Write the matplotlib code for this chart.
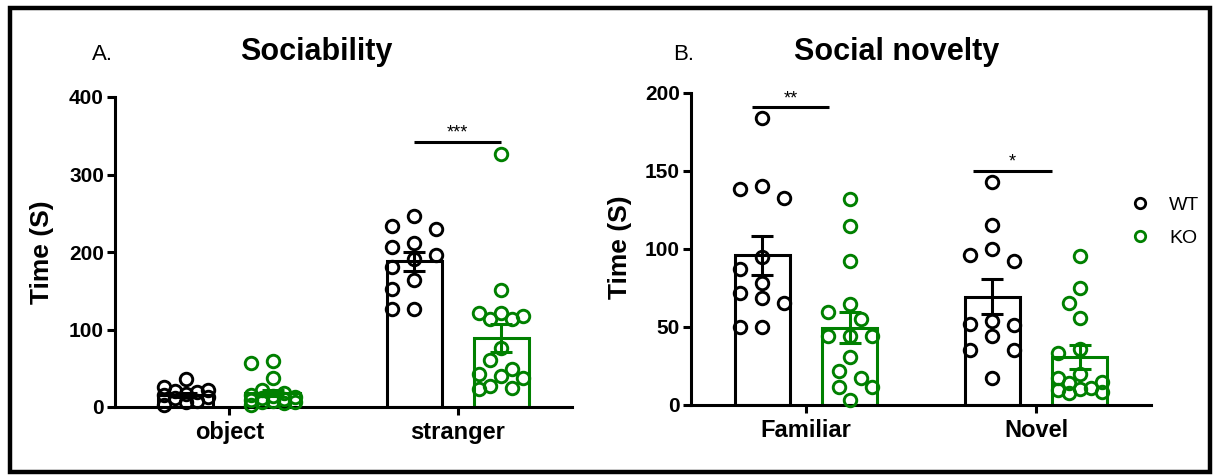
import matplotlib
matplotlib.use("Agg")
import matplotlib.pyplot as plt
import numpy as np
from matplotlib.patches import Rectangle
from matplotlib.lines import Line2D

plt.rcParams["font.family"] = ["Liberation Sans", "DejaVu Sans"]

# ---------------- data ----------------
soc_groups = ["object", "stranger"]
soc_wt_points = [
    [36, 26, 22, 21, 19, 17, 15, 13, 11, 8, 6, 2],
    [246, 233.5, 230, 212, 207, 196, 191, 181, 164, 152, 126, 126],
]
soc_ko_points = [
    [60, 57, 38, 22, 18, 16, 14, 13, 12, 10, 9, 8, 7, 6, 5, 3],
    [327, 151, 121, 121, 117, 114, 113, 76.5, 60.5, 48.5, 42, 40, 37, 27, 24, 23],
]
soc_wt_mean = [15.5, 188]
soc_wt_sem = [3, 12]
soc_ko_mean = [18, 89]
soc_ko_sem = [4, 18]

nov_groups = ["Familiar", "Novel"]
nov_wt_points = [
    [184, 140.5, 138.5, 132.5, 95, 87, 78.5, 71.5, 68.5, 65.5, 50, 50],
    [143, 115.5, 100, 96, 92.5, 54, 52, 51, 44, 35.5, 35.5, 17],
]
nov_ko_points = [
    [132, 114.5, 92.5, 64.5, 59.5, 55, 44, 44, 44, 30.5, 22, 17, 11.5, 11.5, 3],
    [95.5, 75, 65.5, 55.5, 36, 33.5, 20, 17, 15, 14, 11, 10, 9.5, 8.5, 7.5],
]
nov_wt_mean = [96, 69.5]
nov_wt_sem = [12.5, 11.3]
nov_ko_mean = [49.5, 30.5]
nov_ko_sem = [10, 7.7]

series_names = ["WT", "KO"]
WT_COLOR = "black"
KO_COLOR = "#008000"

# ---------------- figure ----------------
W, H, DPI = 1217, 475, 100
fig = plt.figure(figsize=(W / DPI, H / DPI), dpi=DPI)
fig.patch.set_facecolor("white")


def fx(px):
    return px / W


def fy(py):
    return 1 - py / H


ax_a = fig.add_axes([fx(115), fy(407), fx(572) - fx(115), fy(97) - fy(407)])
ax_b = fig.add_axes([fx(691), fy(405), fx(1151) - fx(691), fy(93) - fy(405)])

BAR_OFF = 0.19
BAR_W = 0.24
LW = 2.2

# column order tried when spreading points: outer columns first for WT, inner first for KO
WT_COLUMNS = [0, -2, 2, -1, 1]
KO_COLUMNS = [0, -1, 1, -2, 2]


def swarm(ax, center, values, columns, step_px=11, diam_px=15):
    """Spread points sideways in columns so circles overlap as little as possible."""
    values = np.asarray(values, dtype=float)
    ys = ax.transData.transform(np.column_stack([np.full(len(values), center), values]))[:, 1]
    ppu = ax.transData.transform([(1, 0)])[0, 0] - ax.transData.transform([(0, 0)])[0, 0]
    placed = []
    offs = np.zeros(len(values))
    for i in np.argsort(-values, kind="stable"):
        best, best_d = 0, -1.0
        for k in columns:
            x = k * step_px
            d = min((np.hypot(x - px, ys[i] - py) for px, py in placed), default=np.inf)
            if d >= diam_px:
                best = x
                break
            if d > best_d:
                best_d, best = d, x
        placed.append((best, ys[i]))
        offs[i] = best
    return center + offs / ppu


def draw_panel(ax, groups, wt_pts, ko_pts, wt_mean, wt_sem, ko_mean, ko_sem, ymax, yticks):
    ax.set_xlim(-0.5, 1.5)
    ax.set_ylim(0, ymax)
    for i in range(len(groups)):
        for pts, mean, sem, color, off, cols in (
            (wt_pts[i], wt_mean[i], wt_sem[i], WT_COLOR, -BAR_OFF, WT_COLUMNS),
            (ko_pts[i], ko_mean[i], ko_sem[i], KO_COLOR, BAR_OFF, KO_COLUMNS),
        ):
            xc = i + off
            ax.bar(xc, mean, width=BAR_W, facecolor="none", edgecolor=color,
                   linewidth=LW, zorder=2)
            xs = swarm(ax, xc, pts, cols)
            ax.plot(xs, pts, "o", ms=9, mfc="none", mec=color, mew=2.1,
                    zorder=3, clip_on=False)
            ax.errorbar(xc, mean, yerr=sem, color=color, capsize=8,
                        elinewidth=LW, capthick=LW, zorder=4)
    for s in ("top", "right"):
        ax.spines[s].set_visible(False)
    for s in ("left", "bottom"):
        ax.spines[s].set_linewidth(LW)
    ax.set_xticks(range(len(groups)))
    ax.set_xticklabels(groups, fontsize=17, fontweight="bold")
    ax.set_yticks(yticks)
    ax.set_yticklabels([str(t) for t in yticks], fontsize=15, fontweight="bold")
    ax.tick_params(axis="x", length=6, width=LW, pad=4)
    ax.tick_params(axis="y", length=6, width=LW, pad=2)


draw_panel(ax_a, soc_groups, soc_wt_points, soc_ko_points,
           soc_wt_mean, soc_wt_sem, soc_ko_mean, soc_ko_sem, 400, [0, 100, 200, 300, 400])
draw_panel(ax_b, nov_groups, nov_wt_points, nov_ko_points,
           nov_wt_mean, nov_wt_sem, nov_ko_mean, nov_ko_sem, 200, [0, 50, 100, 150, 200])


def sig(ax, x0, x1, y, label):
    ax.plot([x0, x1], [y, y], color="black", lw=LW, solid_capstyle="butt",
            clip_on=False, zorder=5)
    ax.text((x0 + x1) / 2, y, label, ha="center", va="bottom", fontsize=13)


sig(ax_a, 1 - BAR_OFF, 1 + BAR_OFF, 342, "***")
sig(ax_b, -0.235, 0.10, 190.8, "**")
sig(ax_b, 1 - 0.273, 1 + 0.07, 150.2, "*")

# titles, panel letters, axis labels
fig.text(fx(316), fy(52), "Sociability", fontsize=22, fontweight="bold", ha="center", va="center")
fig.text(fx(897), fy(52), "Social novelty", fontsize=22, fontweight="bold", ha="center", va="center")
fig.text(fx(92), fy(55), "A.", fontsize=16, ha="left", va="center")
fig.text(fx(673), fy(55), "B.", fontsize=16, ha="left", va="center")
fig.text(fx(42), fy(252), "Time (S)", fontsize=19, fontweight="bold", rotation=90,
         ha="center", va="center")
fig.text(fx(620), fy(247), "Time (S)", fontsize=19, fontweight="bold", rotation=90,
         ha="center", va="center")

# legend
handles = [Line2D([], [], ls="none", marker="o", ms=7.5, mfc="none", mec=c, mew=2)
           for c in (WT_COLOR, KO_COLOR)]
fig.legend(handles, series_names, loc="center left", bbox_to_anchor=(fx(1130), fy(221.5)),
           frameon=False, fontsize=14, handlelength=1.0, handletextpad=1.0,
           labelspacing=0.8, borderpad=0, borderaxespad=0)

# outer frame
fig.patches.append(Rectangle((fx(10), fy(472)), fx(1210) - fx(10), fy(8) - fy(472),
                             transform=fig.transFigure, fill=False, edgecolor="black",
                             linewidth=3.2, zorder=10))

fig.savefig("out.png", dpi=DPI)
